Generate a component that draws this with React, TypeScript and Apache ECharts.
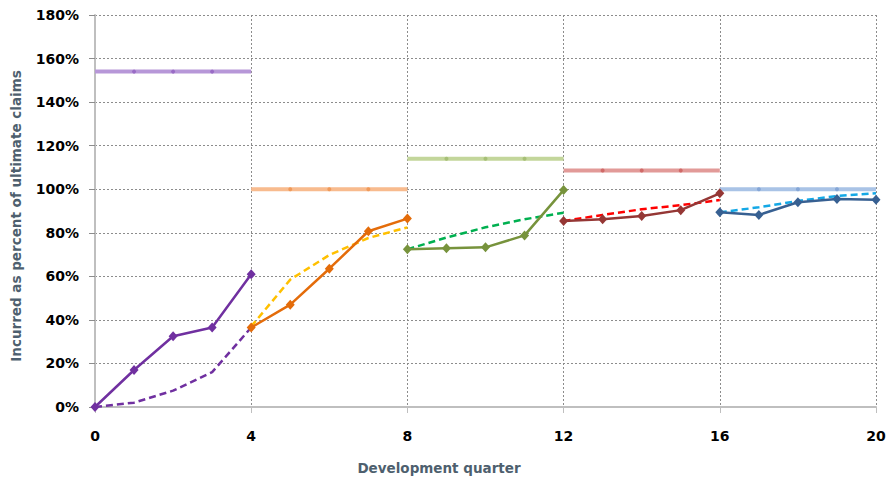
import React, { useEffect, useRef } from "react";
import * as echarts from "echarts";

// Development quarters at which each block starts
const blockStarts = [0, 4, 8, 12, 16];

// Actual incurred (% of ultimate), solid lines with diamonds
const actual1 = [0, 17, 32.5, 36.5, 61];
const actual2 = [36.5, 47, 63.5, 80.7, 86.5];
const actual3 = [72.4, 72.9, 73.3, 78.8, 99.6];
const actual4 = [85.4, 86.2, 87.7, 90.4, 98.1];
const actual5 = [89.4, 88.2, 94, 95.5, 95.2];

// Expected development pattern, dashed lines
const expected1 = [0, 2, 7.5, 16, 36.5];
const expected2 = [37, 58.5, 69.8, 77.6, 82.5];
const expected3 = [72.4, 77.8, 82.5, 86.2, 89.2];
const expected4 = [85.4, 88.2, 90.8, 92.7, 95];
const expected5 = [89.4, 91.7, 94.6, 96.9, 98.1];

// Flat reference levels
const level1 = [154, 154, 154, 154, 154];
const level2 = [100, 100, 100, 100, 100];
const level3 = [114, 114, 114, 114, 114];
const level4 = [108.6, 108.6, 108.6, 108.6, 108.6];
const level5 = [100, 100, 100, 100, 100];

const yTicks = [0, 20, 40, 60, 80, 100, 120, 140, 160, 180];

const actualColors = ["#7030a0", "#e46c0a", "#77933c", "#953735", "#376092"];
const expectedColors = ["#7030a0", "#ffc000", "#00b050", "#ff0000", "#14a8e6"];
const levelColors = ["#b797d8", "#f8bb8e", "#c3d69b", "#e29a98", "#a9c3e6"];
const levelDotColors = ["#9a6cc6", "#f09a5a", "#a6bf76", "#d06a68", "#85a6d6"];

const FONT = "DejaVu Sans";

function toPairs(start: number, vals: number[]) {
  return vals.map((v, i) => [start + i, v]);
}

export default function App() {
  const ref = useRef<HTMLDivElement>(null);
  useEffect(() => {
    if (!ref.current) return;
    const chart = echarts.init(ref.current, null, { renderer: "svg" });
    const actuals = [actual1, actual2, actual3, actual4, actual5];
    const expecteds = [expected1, expected2, expected3, expected4, expected5];
    const levels = [level1, level2, level3, level4, level5];
    const series: any[] = [];
    levels.forEach((vals, k) => {
      const pts = toPairs(blockStarts[k], vals);
      series.push({
        type: "line",
        z: 2,
        data: pts.map((p, i) => ({
          value: p,
          symbolSize: i === 0 || i === pts.length - 1 ? 0 : 4,
        })),
        symbol: "circle",
        showSymbol: true,
        itemStyle: { color: levelDotColors[k] },
        lineStyle: { color: levelColors[k], width: 4 },
      });
    });
    expecteds.forEach((vals, k) => {
      series.push({
        type: "line",
        z: 3,
        data: toPairs(blockStarts[k], vals),
        showSymbol: false,
        symbol: "none",
        lineStyle: { color: expectedColors[k], width: 2.5, type: [7, 4] },
      });
    });
    actuals.forEach((vals, k) => {
      series.push({
        type: "line",
        z: 4,
        data: toPairs(blockStarts[k], vals),
        symbol: "diamond",
        symbolSize: [9, 10],
        itemStyle: { color: actualColors[k] },
        lineStyle: { color: actualColors[k], width: 2.5 },
      });
    });
    chart.setOption({
      animation: false,
      grid: { left: 95, right: 14, top: 15, bottom: 72 },
      xAxis: {
        type: "value",
        min: 0,
        max: 20,
        interval: 4,
        axisLine: { show: true, lineStyle: { color: "#bfbfbf", width: 2 } },
        axisTick: { show: true, length: 6, lineStyle: { color: "#bfbfbf", width: 1 } },
        splitLine: { show: true, lineStyle: { color: "#8c8c8c", width: 1, type: [2, 2] } },
        axisLabel: {
          margin: 22,
          fontFamily: FONT,
          fontWeight: "bold",
          fontSize: 14,
          color: "#000",
        },
      },
      yAxis: {
        type: "value",
        min: 0,
        max: 180,
        interval: 20,
        axisLine: { show: true, lineStyle: { color: "#bfbfbf", width: 2 } },
        axisTick: { show: true, length: 6, lineStyle: { color: "#8c8c8c", width: 1 } },
        splitLine: { show: true, lineStyle: { color: "#8c8c8c", width: 1, type: [2, 2] } },
        axisLabel: {
          margin: 16,
          fontFamily: FONT,
          fontWeight: "bold",
          fontSize: 14,
          color: "#000",
          formatter: (v: number) => (yTicks.includes(v) ? `${v}%` : ""),
        },
      },
      graphic: [
        {
          type: "text",
          x: 439,
          y: 468,
          style: {
            text: "Development quarter",
            fontFamily: FONT,
            fontWeight: "bold",
            fontSize: 13.5,
            fill: "#4e5f6e",
            align: "center",
            verticalAlign: "middle",
          },
        },
        {
          type: "text",
          x: 16,
          y: 216,
          rotation: Math.PI / 2,
          style: {
            text: "Incurred as percent of ultimate claims",
            fontFamily: FONT,
            fontWeight: "bold",
            fontSize: 13.5,
            fill: "#4e5f6e",
            align: "center",
            verticalAlign: "middle",
          },
        },
      ],
      series,
    });
    return () => chart.dispose();
  }, []);
  return (
    <div
      ref={ref}
      style={{ position: "absolute", left: 0, top: 0, width: 890, height: 479 }}
    />
  );
}
